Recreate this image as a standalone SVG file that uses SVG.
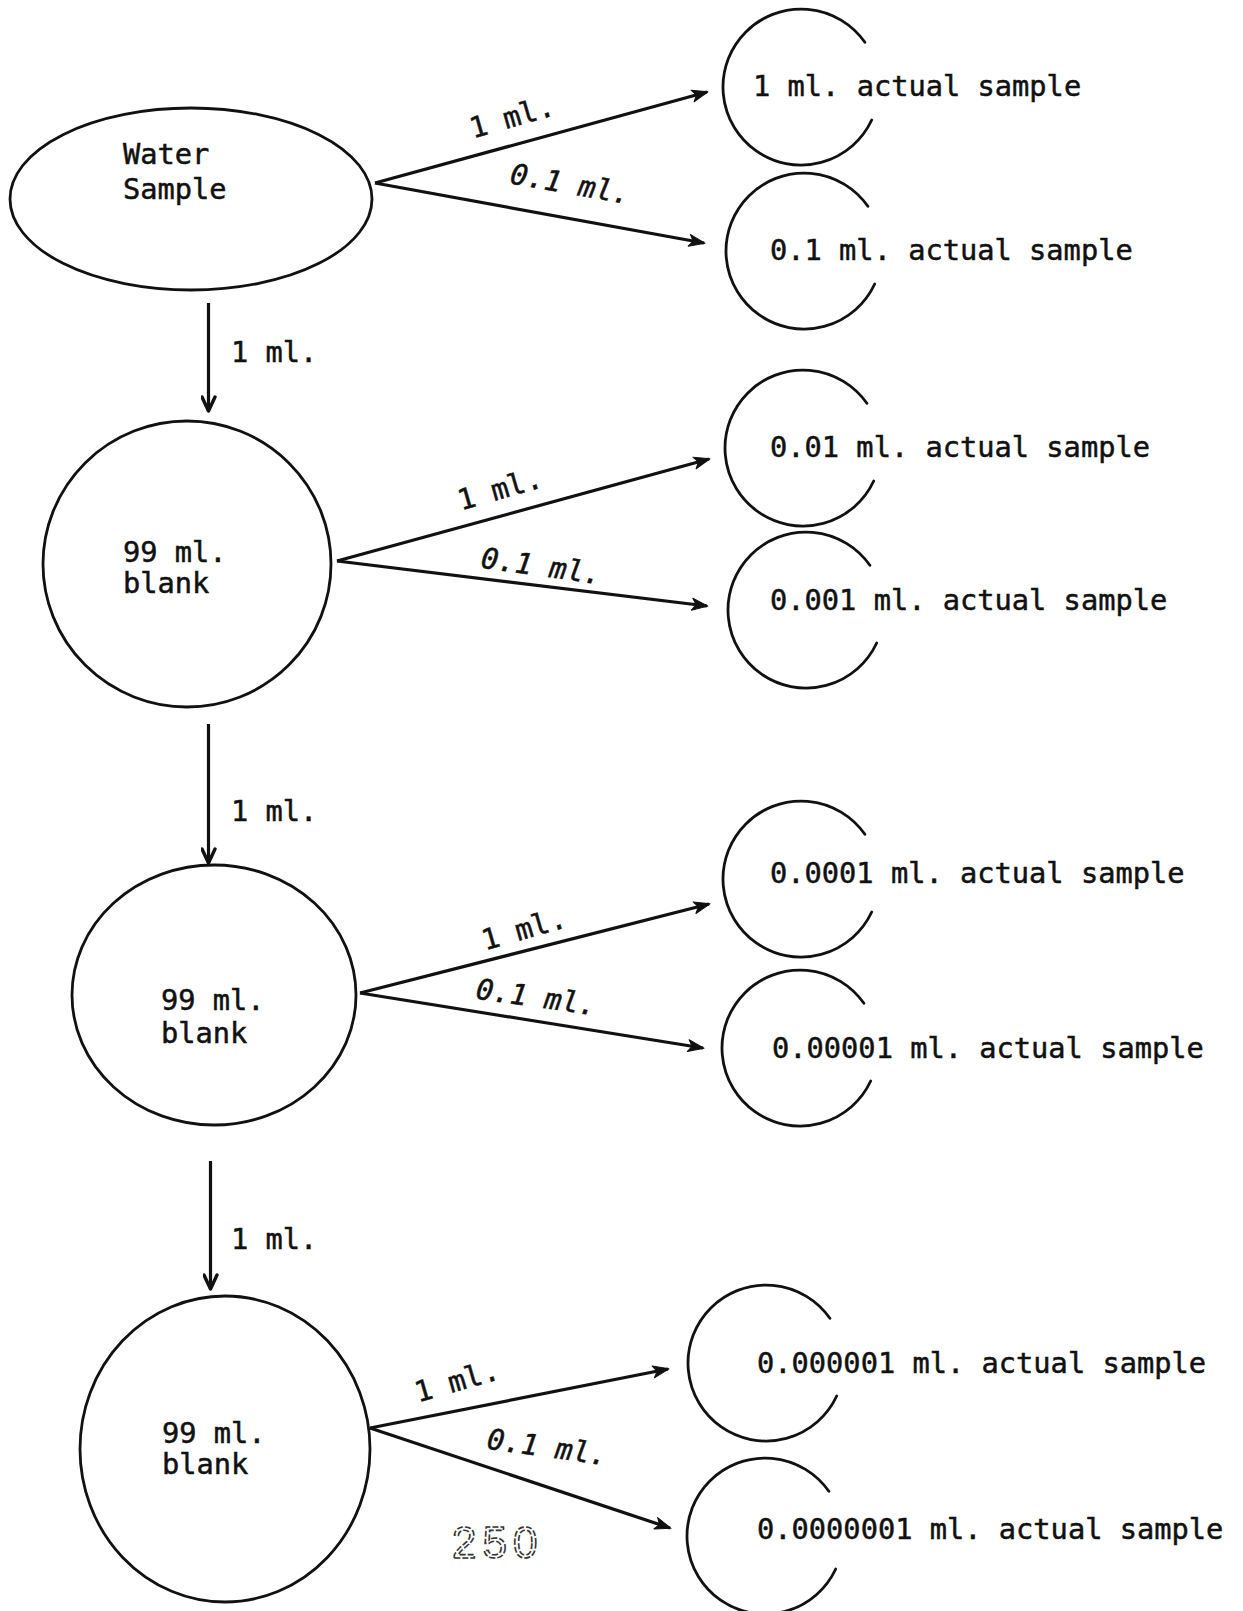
<svg xmlns="http://www.w3.org/2000/svg" width="1243" height="1611" viewBox="0 0 1243 1611">
<defs>
<style>
.t{font-family:"DejaVu Sans Mono","Liberation Mono",monospace;font-size:28.7px;fill:#111;stroke:#111;stroke-width:0.5}
.i{font-style:italic}
.n{fill:none;stroke:#111;stroke-width:2.8}
.c{fill:none;stroke:#111;stroke-width:2.8;stroke-linecap:round}
.e{fill:none;stroke:#111;stroke-width:3.2;marker-end:url(#ah)}
.v{fill:none;stroke:#111;stroke-width:3.2;marker-end:url(#av)}
</style>
<marker id="ah" viewBox="0 0 18 14" refX="16" refY="7" markerWidth="18" markerHeight="14" markerUnits="userSpaceOnUse" orient="auto">
<path d="M1,1 L17,7 L1,13 L5,7 z" fill="#111" stroke="#111" stroke-width="1" stroke-linejoin="round"/>
</marker>
<marker id="av" viewBox="0 0 18 16" refX="16" refY="8" markerWidth="18" markerHeight="16" markerUnits="userSpaceOnUse" orient="auto">
<path d="M2,1.5 L16,8 L2,14.5" fill="none" stroke="#111" stroke-width="3.4" stroke-linecap="round" stroke-linejoin="round"/>
</marker>
<path id="cup" d="M63.9,-44.7 A78,78 0 1 0 70.7,33"/>
</defs>
<rect width="1243" height="1611" fill="#fff"/>

<g id="connectors">
<line class="e" x1="375" y1="183" x2="707" y2="92"/>
<line class="e" x1="375" y1="183" x2="704" y2="243"/>
<line class="v" x1="208.5" y1="303" x2="208.5" y2="411"/>
<line class="e" x1="337" y1="561" x2="709" y2="459"/>
<line class="e" x1="337" y1="561" x2="707" y2="606"/>
<line class="v" x1="208.5" y1="724" x2="208.5" y2="863"/>
<line class="e" x1="360" y1="993" x2="709" y2="904"/>
<line class="e" x1="360" y1="993" x2="703" y2="1048"/>
<line class="v" x1="210.5" y1="1161" x2="210.5" y2="1289"/>
<line class="e" x1="370" y1="1428" x2="668" y2="1369"/>
<line class="e" x1="370" y1="1428" x2="670" y2="1528"/>

<text class="t" transform="translate(512,118) rotate(-16)" x="0" y="9" text-anchor="middle">1 ml.</text>
<text class="t i" transform="translate(570,185) rotate(10)" x="0" y="9" text-anchor="middle">0.1 ml.</text>
<text class="t" x="231" y="362">1 ml.</text>
<text class="t" transform="translate(500,490) rotate(-16)" x="0" y="9" text-anchor="middle">1 ml.</text>
<text class="t i" transform="translate(541,567) rotate(8)" x="0" y="9" text-anchor="middle">0.1 ml.</text>
<text class="t" x="231" y="821">1 ml.</text>
<text class="t" transform="translate(524,930) rotate(-16)" x="0" y="9" text-anchor="middle">1 ml.</text>
<text class="t i" transform="translate(536,998) rotate(8)" x="0" y="9" text-anchor="middle">0.1 ml.</text>
<text class="t" x="231" y="1249">1 ml.</text>
<text class="t" transform="translate(457,1382) rotate(-16)" x="0" y="9" text-anchor="middle">1 ml.</text>
<text class="t i" transform="translate(547,1448) rotate(8)" x="0" y="9" text-anchor="middle">0.1 ml.</text>
</g>

<g id="water-sample">
<ellipse class="n" cx="191" cy="199" rx="181" ry="91"/>
<text class="t" x="123" y="164">Water</text>
<text class="t" x="123" y="199">Sample</text>
</g>
<g id="blank-1">
<ellipse class="n" cx="187" cy="564" rx="144" ry="143"/>
<text class="t" x="123" y="562">99 ml.</text>
<text class="t" x="123" y="593">blank</text>
</g>
<g id="blank-2">
<ellipse class="n" cx="214" cy="995" rx="142" ry="130"/>
<text class="t" x="161" y="1010">99 ml.</text>
<text class="t" x="161" y="1043">blank</text>
</g>
<g id="blank-3">
<ellipse class="n" cx="225" cy="1449" rx="145" ry="153"/>
<text class="t" x="162" y="1443">99 ml.</text>
<text class="t" x="162" y="1474">blank</text>
</g>

<g id="sample-1">
<use href="#cup" class="c" transform="translate(801,87)"/>
<text class="t" x="753" y="96">1 ml. actual sample</text>
</g>
<g id="sample-2">
<use href="#cup" class="c" transform="translate(804,251)"/>
<text class="t" x="770" y="260">0.1 ml. actual sample</text>
</g>
<g id="sample-3">
<use href="#cup" class="c" transform="translate(803,448)"/>
<text class="t" x="770" y="457">0.01 ml. actual sample</text>
</g>
<g id="sample-4">
<use href="#cup" class="c" transform="translate(806,610)"/>
<text class="t" x="770" y="610">0.001 ml. actual sample</text>
</g>
<g id="sample-5">
<use href="#cup" class="c" transform="translate(801,879)"/>
<text class="t" x="770" y="883">0.0001 ml. actual sample</text>
</g>
<g id="sample-6">
<use href="#cup" class="c" transform="translate(800,1048)"/>
<text class="t" x="772" y="1058">0.00001 ml. actual sample</text>
</g>
<g id="sample-7">
<use href="#cup" class="c" transform="translate(766,1363)"/>
<text class="t" x="757" y="1373">0.000001 ml. actual sample</text>
</g>
<g id="sample-8">
<use href="#cup" class="c" transform="translate(765,1536)"/>
<text class="t" x="757" y="1539">0.0000001 ml. actual sample</text>
</g>

<text x="452" y="1558" font-family="Liberation Sans, sans-serif" font-size="44" letter-spacing="6" fill="none" stroke="#333" stroke-width="1.6" stroke-dasharray="6 2">250</text>
</svg>
